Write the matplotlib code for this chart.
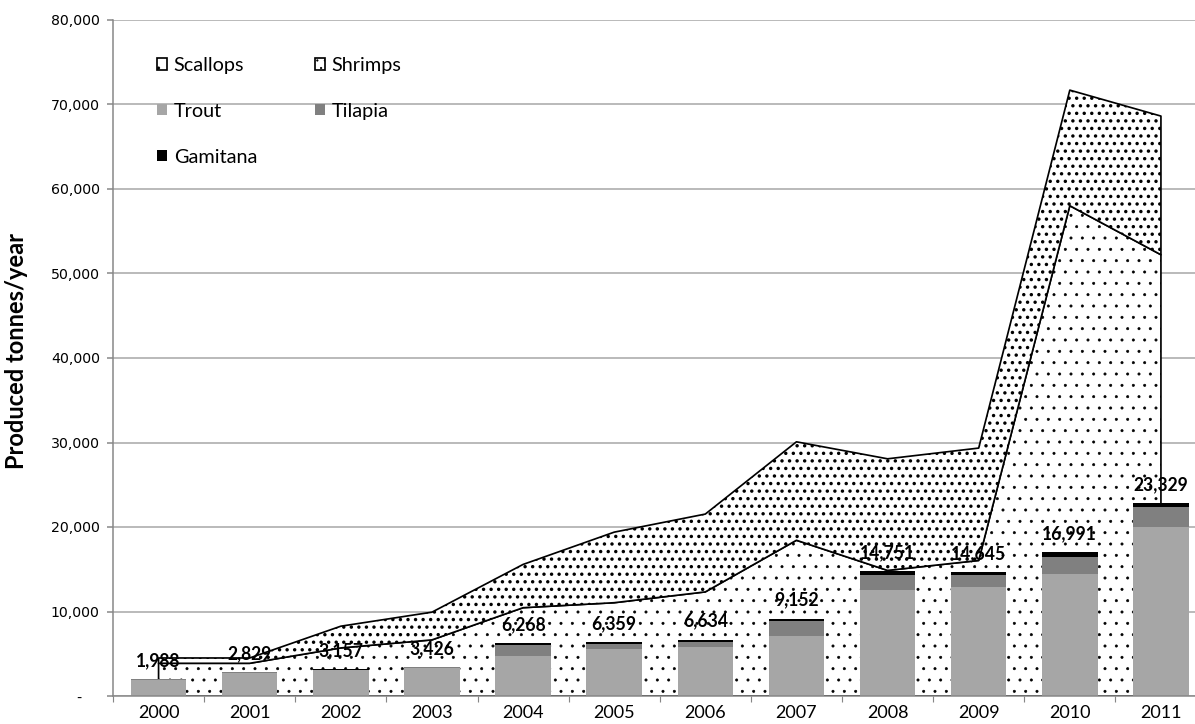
import numpy as np
import matplotlib
matplotlib.use('Agg')
import matplotlib.pyplot as plt
from matplotlib.ticker import FuncFormatter, FixedLocator

# ---------------- data (tonnes/year) ----------------
years = ['2000', '2001', '2002', '2003', '2004', '2005',
         '2006', '2007', '2008', '2009', '2010', '2011']
scallops = [3870, 3870, 5690, 6640, 10450, 11040, 12320, 18430, 14860, 16040, 58020, 52220]
shrimps = [630, 630, 2570, 3280, 5120, 8350, 9210, 11650, 13210, 13300, 13680, 16410]
trout = [1930, 2770, 3090, 3360, 4770, 5560, 5820, 7150, 12530, 12945, 14490, 20040]
tilapia = [30, 35, 40, 40, 1270, 600, 520, 1770, 1790, 1320, 1930, 2370]
gamitana = [28, 24, 27, 26, 230, 200, 295, 232, 431, 380, 571, 400]
fish_totals = [1988, 2829, 3157, 3426, 6268, 6359, 6634, 9152, 14751, 14645, 16991, 23329]

DPI = 136
plt.rcParams['hatch.linewidth'] = 0.35
plt.rcParams['font.family'] = ['Lato', 'DejaVu Sans']

fig = plt.figure(figsize=(1195 / DPI, 724 / DPI), dpi=DPI)
ax = fig.add_axes([113 / 1195, 1 - 696 / 724, (1206.5 - 113) / 1195, (696 - 20) / 724])

x = np.arange(len(years))
scal = np.array(scallops)
top = scal + np.array(shrimps)

# stacked areas (white with dots)
a1 = ax.fill_between(x, 0, scal, facecolor='white', edgecolor='black', hatch='..',
                     linewidth=0.9, zorder=1, label='Scallops')
a2 = ax.fill_between(x, scal, top, facecolor='white', edgecolor='black', hatch='...',
                     linewidth=0.9, zorder=1, label='Shrimps')
try:
    a1.set_hatch_linewidth(0.35)
    a2.set_hatch_linewidth(1.0)
except AttributeError:
    pass

# stacked bars
w = 0.61
tr = np.array(trout)
ti = np.array(tilapia)
ga = np.array(gamitana)
b1 = ax.bar(x, tr, w, color='#a6a6a6', zorder=2, label='Trout')
b2 = ax.bar(x, ti, w, bottom=tr, color='#808080', zorder=2, label='Tilapia')
b3 = ax.bar(x, ga, w, bottom=tr + ti, color='black', zorder=2, label='Gamitana')

bar_top = tr + ti + ga
for i, v in enumerate(fish_totals):
    ax.annotate(f'{v:,}', (x[i], bar_top[i]), xytext=(0, 7), textcoords='offset points',
                ha='center', va='baseline', fontsize=9.3, fontweight='bold', zorder=4)

# axes
ax.set_xlim(-0.5, len(years) - 0.5)
ax.set_ylim(0, 80000)
ax.set_yticks(np.arange(0, 80001, 10000))
ax.yaxis.set_major_formatter(FuncFormatter(lambda v, p: '-    ' if v == 0 else f'{int(v):,}'))
for lab in ax.get_yticklabels():
    lab.set_family('DejaVu Sans')
ax.tick_params(axis='y', labelsize=7.5, length=3, color='#868686', pad=4)
ax.grid(axis='y', color='#a6a6a6', linewidth=0.8, zorder=0)
ax.set_axisbelow(True)

ax.set_xticks(x)
ax.set_xticklabels(years, fontsize=9.5)
ax.xaxis.set_minor_locator(FixedLocator(np.arange(-0.5, len(years), 1)))
ax.tick_params(axis='x', which='major', length=0, pad=5)
ax.tick_params(axis='x', which='minor', length=3, color='#868686')

for s in ['top', 'right']:
    ax.spines[s].set_visible(False)
for s in ['left', 'bottom']:
    ax.spines[s].set_color('#868686')
    ax.spines[s].set_linewidth(0.8)

fig.text(17 / 1195, 1 - 351 / 724, 'Produced tonnes/year', rotation=90,
         ha='center', va='center', fontsize=12.5, fontweight='bold')

handles = [a1, b1, b3, a2, b2]
labels = ['Scallops', 'Trout', 'Gamitana', 'Shrimps', 'Tilapia']
fig.legend(handles, labels, loc='upper left', bbox_to_anchor=(157 / 1195, 1 - 57 / 724),
           ncol=2, frameon=False, fontsize=10.5, handlelength=0.5, handleheight=0.5,
           handletextpad=0.35, columnspacing=2.9, labelspacing=1.45,
           borderpad=0, borderaxespad=0)

fig.savefig('out.png', dpi=DPI)
